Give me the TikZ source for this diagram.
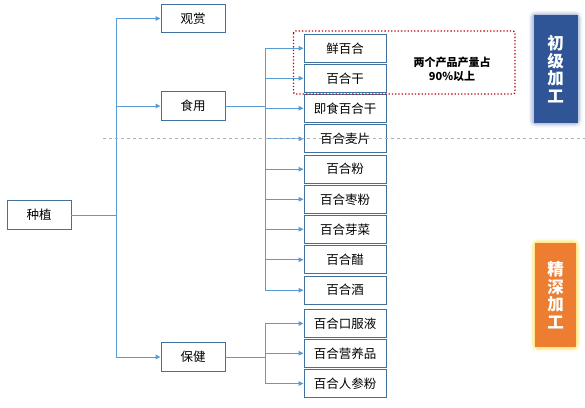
\documentclass[tikz,border=0pt]{standalone}
\usepackage{fontspec}
\setmainfont{Noto Sans CJK SC}
\newfontfamily\cjk{Noto Sans CJK SC}
\usetikzlibrary{arrows.meta,calc}
\definecolor{boxline}{HTML}{41719C}
\definecolor{conn}{HTML}{5B9BD5}
\definecolor{darkblue}{HTML}{2F5597}
\definecolor{orng}{HTML}{ED7D31}
\definecolor{glowy}{HTML}{FFE066}
\definecolor{dotred}{HTML}{C00000}
\tikzset{
  catbox/.style={draw=boxline, line width=0.9pt, fill=white, minimum width=64pt, minimum height=28.5pt, inner sep=0pt, font=\cjk\fontsize{12.5}{14}\selectfont},
  prodbox/.style={draw=boxline, line width=0.9pt, fill=white, minimum width=82pt, minimum height=28pt, inner sep=0pt, font=\cjk\fontsize{12.5}{14}\selectfont},
  conn/.style={draw=conn, line width=1pt},
  arr/.style={conn, -{Triangle[length=5pt,width=4.5pt]}},
  stagebox/.style={minimum width=44pt, inner sep=0pt, text=white, font=\cjk\bfseries\fontsize{16.5}{17.5}\selectfont, align=center},
}
\begin{document}
\begin{tikzpicture}[x=1pt,y=-1pt]
\useasboundingbox (0,0) rectangle (585,407);
% category nodes
\node[catbox] (root) at (39,215) {种植};
\node[catbox] (guan) at (193,18.5) {观赏};
\node[catbox] (shi) at (193,106) {食用};
\node[catbox] (bao) at (193,357) {保健};
% product nodes
\node[prodbox] (p1) at (345,48.3) {鲜百合};
\node[prodbox] (p2) at (345,78.3) {百合干};
\node[prodbox] (p3) at (345,108.3) {即食百合干};
\node[prodbox] (p4) at (345,138.8) {百合麦片};
\node[prodbox] (p5) at (345,169.2) {百合粉};
\node[prodbox] (p6) at (345,199.3) {百合枣粉};
\node[prodbox] (p7) at (345,229.3) {百合芽菜};
\node[prodbox] (p8) at (345,259.7) {百合醋};
\node[prodbox] (p9) at (345,290.2) {百合酒};
\node[prodbox] (q1) at (345,323.5) {百合口服液};
\node[prodbox] (q2) at (345,353.3) {百合营养品};
\node[prodbox] (q3) at (345,383.5) {百合人参粉};
% trunk
\coordinate (tr) at (116,215);
\draw[conn] (root.east) -- (tr);
\draw[conn] (116,18.5) -- (116,357);
\foreach \n in {guan,shi,bao} \draw[arr] (tr |- \n.west) -- (\n.west);
% food bus
\coordinate (fb) at (265,106);
\draw[conn] (shi.east) -- (fb);
\draw[conn] (265,48.3) -- (265,290.2);
\foreach \n in {p1,p2,p3,p4,p5,p6,p7,p8,p9} \draw[arr] (fb |- \n.west) -- (\n.west);
% health bus
\coordinate (hb) at (265,357);
\draw[conn] (bao.east) -- (hb);
\draw[conn] (265,323.5) -- (265,383.5);
\foreach \n in {q1,q2,q3} \draw[arr] (hb |- \n.west) -- (\n.west);
% dashed separator (drawn on top)
\draw[gray!60, dashed, line width=0.6pt] (103,138) -- (585,138);
% red dotted frame
\draw[dotred, dotted, line width=1.3pt, rounded corners=2pt] (293.5,31) rectangle (515,94);
\node[font=\cjk\bfseries\fontsize{11}{13.5}\selectfont, align=center] (note) at (452,69.5) {两个产品产量占\\90\%以上};
% stage boxes with glow
\foreach \w/\o in {9/0.08,6/0.15,3/0.3}
  \draw[darkblue!70, line width=\w pt, opacity=\o, rounded corners=3pt] (533,15) rectangle (578,123);
\node[stagebox, fill=darkblue, minimum height=108pt] (s1) at (555.5,69) {初\\级\\加\\工};
\foreach \w/\o in {9/0.15,6/0.3,3/0.6}
  \draw[glowy, line width=\w pt, opacity=\o, rounded corners=3pt] (535,243) rectangle (576,347);
\node[stagebox, fill=orng, minimum width=41pt, minimum height=104pt] (s2) at (555.5,295) {精\\深\\加\\工};
\end{tikzpicture}
\end{document}
